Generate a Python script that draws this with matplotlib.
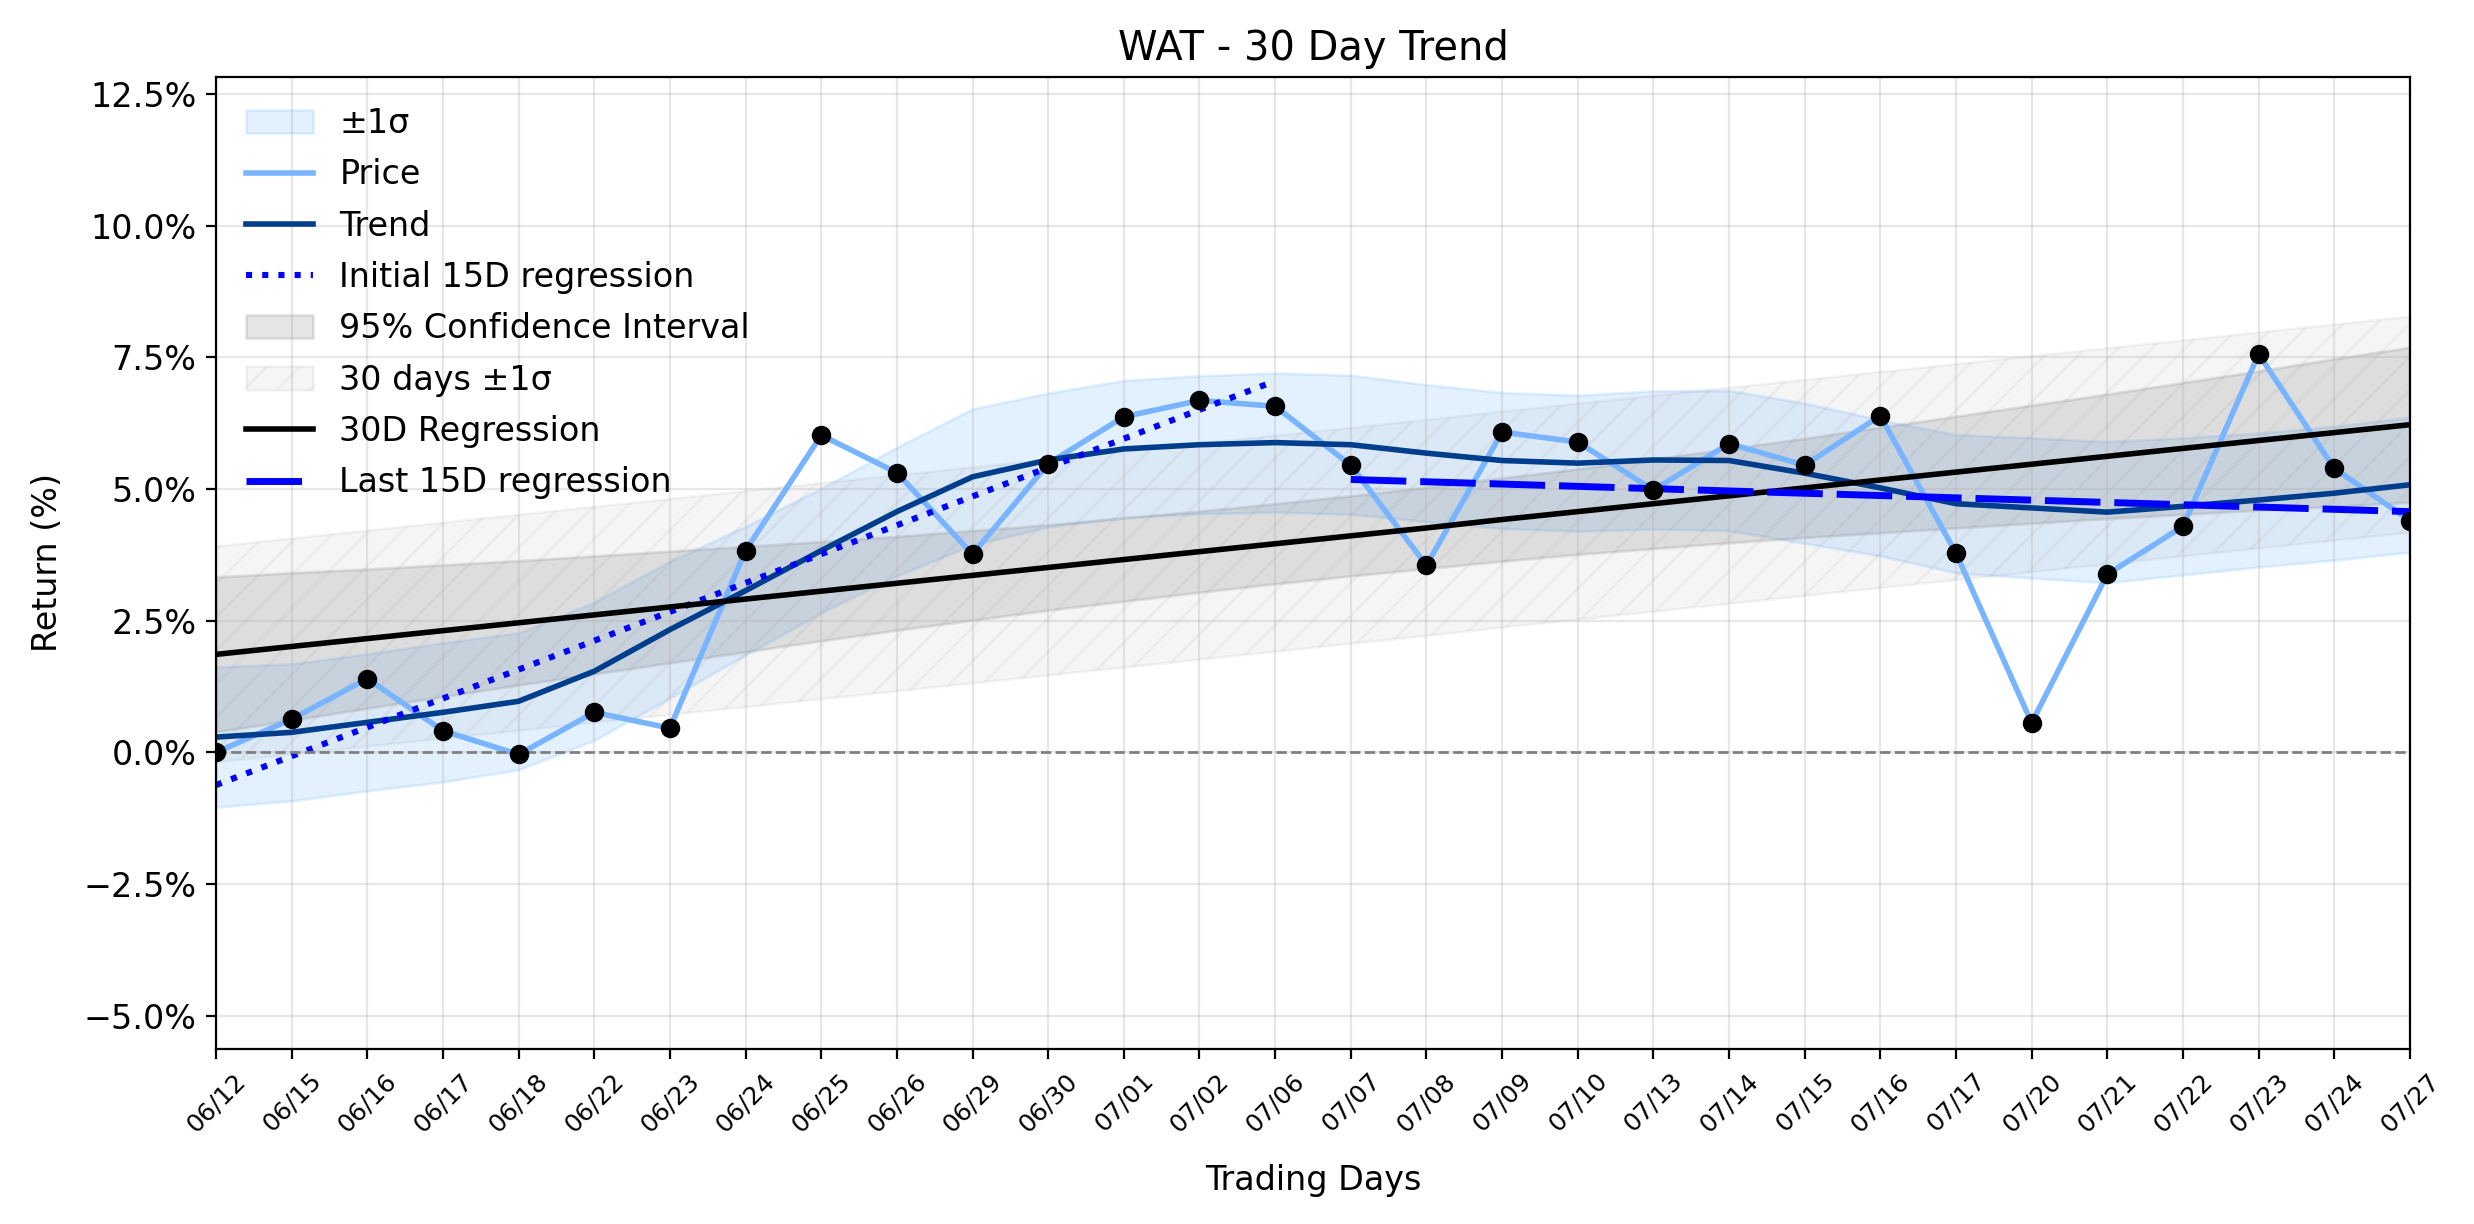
import matplotlib
matplotlib.use("Agg")
import matplotlib.pyplot as plt
import matplotlib.ticker as mticker
import numpy as np

plt.rcParams['font.size'] = 12

# data (returns in %)
days = ['06/12', '06/15', '06/16', '06/17', '06/18', '06/22', '06/23', '06/24', '06/25', '06/26',
        '06/29', '06/30', '07/01', '07/02', '07/06', '07/07', '07/08', '07/09', '07/10', '07/13',
        '07/14', '07/15', '07/16', '07/17', '07/20', '07/21', '07/22', '07/23', '07/24', '07/27']
price = [0.00, 0.63, 1.40, 0.41, -0.04, 0.76, 0.46, 3.83, 6.02, 5.31,
         3.76, 5.48, 6.37, 6.68, 6.57, 5.45, 3.55, 6.08, 5.89, 4.98,
         5.86, 5.45, 6.39, 3.78, 0.56, 3.38, 4.29, 7.56, 5.39, 4.40]
trend = [0.29, 0.38, 0.57, 0.76, 0.97, 1.54, 2.33, 3.07, 3.83, 4.57,
         5.23, 5.55, 5.76, 5.84, 5.88, 5.84, 5.68, 5.54, 5.49, 5.55,
         5.54, 5.30, 5.02, 4.72, 4.64, 4.56, 4.67, 4.79, 4.92, 5.08]
sigma = [1.33, 1.30, 1.30, 1.32, 1.30, 1.31, 1.30, 1.22, 1.18, 1.22,
         1.29, 1.27, 1.30, 1.31, 1.32, 1.32, 1.30, 1.29, 1.29, 1.31,
         1.33, 1.33, 1.29, 1.31, 1.33, 1.34, 1.30, 1.27, 1.27, 1.28]
reg30 = [1.86, 2.01, 2.16, 2.31, 2.46, 2.61, 2.76, 2.91, 3.06, 3.21,
         3.36, 3.51, 3.66, 3.81, 3.96, 4.11, 4.26, 4.42, 4.57, 4.72,
         4.87, 5.02, 5.17, 5.32, 5.47, 5.62, 5.77, 5.92, 6.07, 6.22]
ci_half = [1.47, 1.40, 1.32, 1.25, 1.18, 1.12, 1.06, 1.00, 0.94, 0.89,
           0.85, 0.81, 0.79, 0.77, 0.76, 0.76, 0.77, 0.79, 0.81, 0.85,
           0.89, 0.94, 1.00, 1.06, 1.12, 1.18, 1.25, 1.32, 1.40, 1.47]
std30 = 2.05
first15_x = [0, 14]
first15_y = [-0.62, 7.05]
last15_x = [15, 29]
last15_y = [5.18, 4.57]

x = np.arange(len(days))
price = np.array(price)
trend = np.array(trend)
sigma = np.array(sigma)
reg30 = np.array(reg30)
ci_half = np.array(ci_half)

fig = plt.figure(figsize=(12.37, 6.12), dpi=200)
fig.subplots_adjust(left=0.0873, right=0.9741, top=0.9371, bottom=0.1430)
ax = fig.add_subplot(111)

ax.fill_between(x, trend - sigma, trend + sigma, color='#1e90ff', alpha=0.12, label='±1σ')
ax.plot(x, price, color='#78b4ff', lw=2, label='Price')
ax.plot(x, trend, color='#003d8c', lw=2, label='Trend')
ax.plot(first15_x, first15_y, color='blue', lw=2.2, ls=':', label='Initial 15D regression')
ax.fill_between(x, reg30 - ci_half, reg30 + ci_half, color='gray', alpha=0.2,
                label='95% Confidence Interval')
ax.fill_between(x, reg30 - std30, reg30 + std30, color='gray', alpha=0.08, hatch='//',
                label='30 days ±1σ')
ax.plot(x, reg30, color='black', lw=2, label='30D Regression')
ax.plot(last15_x, last15_y, color='blue', lw=2.5, ls=(0, (8, 2)), label='Last 15D regression')
ax.plot(x, price, 'o', color='black', ms=6, zorder=5)

ax.axhline(0, color='gray', ls='--', lw=1)

ax.set_xlim(0, 29)
ax.set_ylim(-5.63, 12.82)
ax.set_xticks(x)
ax.set_xticklabels(days, rotation=45, fontsize=9)
ax.set_yticks(np.arange(-5, 12.6, 2.5))
ax.yaxis.set_major_formatter(mticker.PercentFormatter(decimals=1))
ax.grid(True, alpha=0.3)

ax.set_title('WAT - 30 Day Trend')
ax.set_xlabel('Trading Days', labelpad=10)
ax.set_ylabel('Return (%)', labelpad=7)
ax.legend(loc='upper left', frameon=False, labelspacing=0.55)

fig.savefig('out.png', dpi=200)
